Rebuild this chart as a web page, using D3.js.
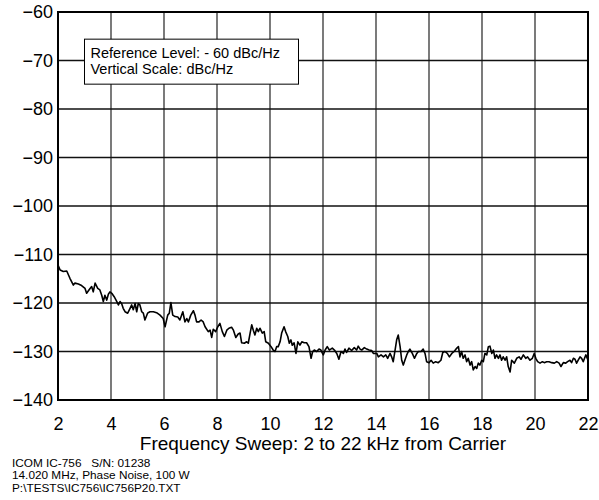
<!DOCTYPE html>
<html>
<head>
<meta charset="utf-8">
<script src="https://cdn.jsdelivr.net/npm/d3@7"></script>
<style>
  body { margin: 0; background: #fff; }
  svg { display: block; font-family: "Liberation Sans", Arial, sans-serif; }
  .foot { white-space: pre; }
</style>
</head>
<body>
<svg width="599" height="500"></svg>
<script>
// phase noise trace (kHz from carrier, dBc/Hz)
const freqKHz = [
  2.00, 2.08, 2.20, 2.33, 2.45, 2.58, 2.64, 2.77, 2.89, 3.02, 3.08, 3.21, 3.27, 3.33, 3.40, 3.50, 3.58, 3.65, 3.71, 3.77, 3.84, 3.90, 3.96, 4.03, 4.12, 4.22, 4.28, 4.34, 4.40, 4.46, 4.53, 4.63, 4.72, 4.78, 4.84, 4.91, 4.97, 5.03, 5.09, 5.16, 5.22, 5.28, 5.38, 5.47,
  5.60, 5.72, 5.85, 5.97, 6.04, 6.14, 6.20, 6.26, 6.33, 6.42, 6.52, 6.60, 6.71, 6.79, 6.86, 6.92, 7.01, 7.11, 7.17, 7.23, 7.32, 7.40, 7.48, 7.55, 7.67, 7.74, 7.80, 7.86, 7.95, 8.03, 8.11, 8.20, 8.28, 8.37, 8.45, 8.55, 8.62, 8.71, 8.80, 8.87,
  8.93, 9.03, 9.12, 9.18, 9.25, 9.31, 9.37, 9.43, 9.50, 9.56, 9.62, 9.71, 9.78, 9.84, 9.94, 10.04, 10.12, 10.19, 10.25, 10.31, 10.38, 10.44, 10.53, 10.59, 10.67, 10.73, 10.79, 10.84, 10.91, 10.98, 11.05, 11.13, 11.20, 11.29, 11.38, 11.47, 11.55, 11.61, 11.67, 11.76, 11.85, 11.92, 12.01, 12.08, 12.16, 12.24,
  12.35, 12.43, 12.52, 12.60, 12.68, 12.77, 12.83, 12.89, 12.98, 13.08, 13.18, 13.27, 13.33, 13.40, 13.46, 13.56, 13.65, 13.74, 13.84, 13.90, 14.03, 14.09, 14.19, 14.28, 14.37, 14.44, 14.53, 14.59, 14.65, 14.72, 14.78, 14.84, 14.91, 14.97, 15.03, 15.09, 15.16, 15.22, 15.28, 15.37, 15.45, 15.54, 15.60,
  15.70, 15.78, 15.85, 15.91, 16.00, 16.08, 16.16, 16.25, 16.35, 16.45, 16.52, 16.60, 16.69, 16.77, 16.86, 16.95, 17.05, 17.11, 17.17, 17.23, 17.29, 17.36, 17.42, 17.48, 17.55, 17.61, 17.67, 17.74, 17.80, 17.86, 17.92, 17.99, 18.05, 18.11, 18.18, 18.24, 18.30, 18.37, 18.43, 18.49, 18.55, 18.62, 18.68, 18.74, 18.80, 18.87, 18.93, 18.99, 19.06,
  19.12, 19.22, 19.31, 19.40, 19.47, 19.56, 19.65, 19.72, 19.81, 19.90, 19.97, 20.03, 20.10, 20.19, 20.28, 20.35, 20.44, 20.53, 20.63, 20.73, 20.82, 20.91, 20.98, 21.07, 21.16, 21.23, 21.32, 21.38, 21.45, 21.51, 21.57, 21.63, 21.70, 21.76, 21.82, 21.89, 21.92, 22.00
];
const noiseDbc = [
  -112.2, -113.2, -113.5, -113.4, -114.9, -116.3, -115.9, -116.1, -116.4, -117.0, -118.0, -117.0, -116.6, -117.7, -115.9, -117.0, -117.3, -118.4, -119.7, -118.4, -119.4, -118.2, -117.7, -118.0, -118.7, -119.7, -120.4, -119.7, -120.1, -121.1, -121.8, -122.1, -121.1, -120.4, -121.4, -120.1, -121.8, -120.1, -120.4, -121.8, -122.1, -123.5, -122.1, -121.8,
  -121.8, -122.0, -122.5, -123.2, -124.9, -122.5, -122.1, -119.9, -122.5, -122.8, -122.9, -123.5, -121.8, -123.9, -123.2, -123.9, -122.5, -121.6, -122.5, -123.9, -123.9, -123.5, -123.9, -124.9, -125.9, -125.6, -127.1, -125.4, -125.9, -124.9, -124.2, -125.9, -126.9, -125.6, -125.2, -125.0, -125.6, -127.1, -126.4, -126.2,
  -128.2, -128.3, -128.0, -128.3, -126.2, -124.5, -125.6, -126.6, -125.2, -125.9, -125.2, -126.2, -125.9, -128.0, -128.3, -129.0, -129.7, -130.0, -129.0, -129.0, -128.0, -126.2, -124.9, -125.9, -126.9, -128.3, -127.6, -128.7, -128.2, -130.4, -128.0, -128.7, -128.0, -128.2, -128.2, -129.0, -131.4, -130.0, -129.7, -130.0, -129.5, -129.7, -130.7, -129.7, -129.0, -129.7,
  -129.3, -129.7, -130.4, -131.6, -130.0, -130.4, -129.5, -130.2, -129.3, -129.8, -129.2, -129.7, -128.9, -129.5, -129.7, -129.2, -129.5, -129.7, -129.8, -130.4, -130.4, -131.1, -130.7, -131.1, -130.7, -131.4, -130.4, -131.1, -132.1, -129.7, -127.6, -126.6, -129.0, -131.8, -132.8, -131.8, -130.7, -130.0, -129.5, -130.4, -131.4, -130.4, -130.0,
  -130.0, -129.5, -130.4, -132.1, -132.3, -131.8, -132.4, -132.1, -132.3, -131.8, -130.2, -130.0, -130.4, -131.1, -130.4, -130.0, -129.3, -129.0, -131.1, -130.0, -131.4, -130.7, -132.1, -131.4, -132.8, -132.1, -133.8, -133.1, -133.5, -132.4, -132.8, -131.8, -132.1, -130.4, -130.7, -129.0, -128.9, -130.4, -129.7, -131.4, -130.7, -131.4, -130.7, -131.8, -131.1, -131.8, -131.1, -133.1, -134.2,
  -131.8, -132.4, -131.4, -131.1, -131.6, -130.7, -131.4, -131.1, -131.8, -131.4, -130.4, -131.4, -132.1, -132.4, -132.1, -132.3, -132.1, -132.1, -132.3, -132.4, -132.1, -132.4, -133.1, -132.3, -132.4, -132.1, -131.8, -132.3, -131.4, -131.6, -132.4, -131.8, -131.1, -131.4, -132.1, -131.1, -130.7, -131.8
];

const xTicks = [2, 4, 6, 8, 10, 12, 14, 16, 18, 20, 22];
const yTicks = [-60, -70, -80, -90, -100, -110, -120, -130, -140];
const legendLines = ['Reference Level: - 60 dBc/Hz', 'Vertical Scale: dBc/Hz'];
const xTitle = 'Frequency Sweep: 2 to 22 kHz from Carrier';
const footLines = ['ICOM IC-756   S/N: 01238', '14.020 MHz, Phase Noise, 100 W', 'P:\\TESTS\\IC756\\IC756P20.TXT'];

const margin = {top: 12, right: 11, bottom: 100, left: 58};
const width = 599 - margin.left - margin.right;
const height = 500 - margin.top - margin.bottom;

const svg = d3.select('svg');
const chart = svg.append('g')
    .attr('transform', `translate(${margin.left}, ${margin.top})`);

const xScale = d3.scaleLinear().domain([2, 22]).range([0, width]);
const yScale = d3.scaleLinear().domain([-140, -60]).range([height, 0]);

// grid lines
chart.append('g')
    .selectAll('line.vgrid')
    .data(xTicks)
    .join('line')
    .attr('x1', d => xScale(d)).attr('x2', d => xScale(d))
    .attr('y1', 0).attr('y2', height)
    .attr('stroke', '#333')
    .attr('stroke-width', 1.3);
chart.append('g')
    .selectAll('line.hgrid')
    .data(yTicks)
    .join('line')
    .attr('x1', 0).attr('x2', width)
    .attr('y1', d => yScale(d)).attr('y2', d => yScale(d))
    .attr('stroke', '#111')
    .attr('stroke-width', 1.3);

// axes (labels only)
const xAxis = d3.axisBottom(xScale)
    .tickValues(xTicks)
    .tickSize(0)
    .tickPadding(17)
    .tickFormat(d3.format('d'));
chart.append('g')
    .attr('transform', `translate(0, ${height})`)
    .call(xAxis)
    .call(g => g.select('.domain').remove())
    .selectAll('text')
    .attr('fill', '#000')
    .style('font-size', '18px');

const yAxis = d3.axisLeft(yScale)
    .tickValues(yTicks)
    .tickSize(0)
    .tickPadding(5)
    .tickFormat(d => '\u2212' + Math.abs(d));
chart.append('g')
    .call(yAxis)
    .call(g => g.select('.domain').remove())
    .selectAll('text')
    .attr('fill', '#000')
    .style('font-size', '18px');

// trace
const line = d3.line()
    .x((d, i) => xScale(freqKHz[i]))
    .y(d => yScale(d));
chart.append('path')
    .attr('d', line(noiseDbc))
    .attr('fill', 'none')
    .attr('stroke', '#000')
    .attr('stroke-width', 1.6)
    .attr('stroke-linejoin', 'round');

// frame
chart.append('rect')
    .attr('width', width)
    .attr('height', height)
    .attr('fill', 'none')
    .attr('stroke', '#000')
    .attr('stroke-width', 2);

// legend box
const legend = chart.append('g')
    .attr('transform', `translate(${xScale(3)}, ${yScale(-65.6)})`);
legend.append('rect')
    .attr('width', 214)
    .attr('height', 45)
    .attr('fill', '#fff')
    .attr('stroke', '#000')
    .attr('stroke-width', 1);
legend.selectAll('text')
    .data(legendLines)
    .join('text')
    .attr('x', 6)
    .attr('y', (d, i) => 18.5 + i * 16.5)
    .style('font-size', '14.5px')
    .text(d => d);

// axis title
svg.append('text')
    .attr('x', margin.left + width / 2)
    .attr('y', 450)
    .attr('text-anchor', 'middle')
    .style('font-size', '19px')
    .text(xTitle);

// footnote
svg.append('g')
    .selectAll('text')
    .data(footLines)
    .join('text')
    .attr('class', 'foot')
    .attr('x', 12)
    .attr('y', (d, i) => 466.5 + i * 12.7)
    .style('font-size', '11.8px')
    .text(d => d);
</script>
</body>
</html>
